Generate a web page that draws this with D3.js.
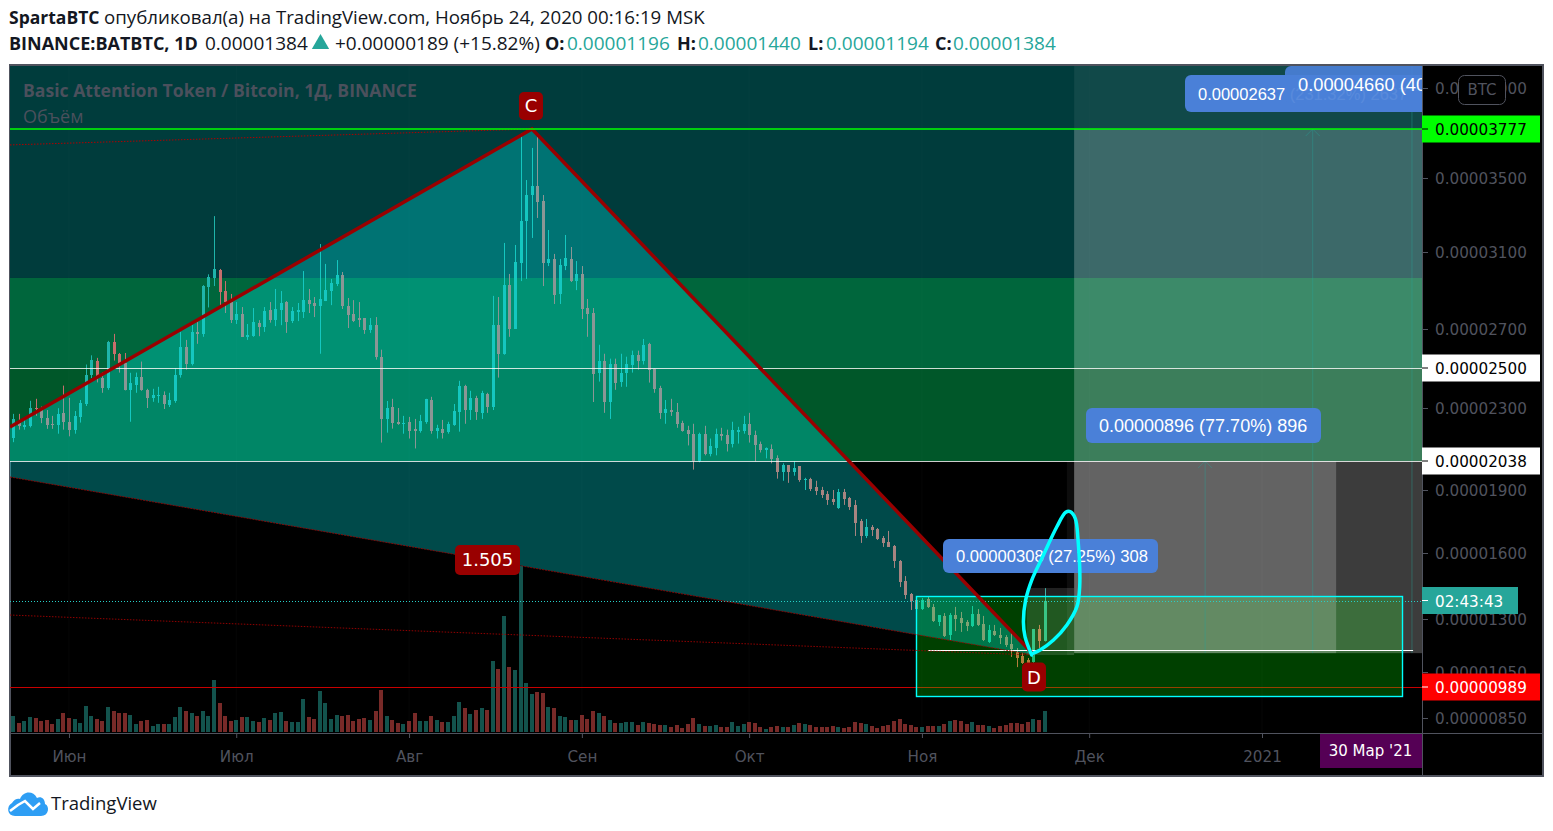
<!DOCTYPE html>
<html><head><meta charset="utf-8">
<script src="https://cdn.jsdelivr.net/npm/d3@7/dist/d3.min.js"></script>
<style>
html,body{margin:0;padding:0;background:#fff;overflow:hidden}
svg{display:block}
text{font-family:"Open Sans",sans-serif}
.ax text{font-family:"DejaVu Sans",sans-serif;font-size:15.2px;fill:#50535e}
</style></head><body>
<svg id="c" width="1553" height="831"></svg>
<script>
// prices in units of 0.00000001 BTC; index 0 is 22 May 2020, one entry per day
const firstDay = -10; // days relative to 1 June 2020
const opens = [2154,2226,2206,2212,2300,2290,2251,2222,2217,2276,
2232,2193,2256,2320,2467,2538,2452,2401,2634,2573,
2528,2391,2417,2457,2391,2351,2361,2366,2315,2336,
2467,2609,2518,2685,2675,2918,2965,3006,2897,2840,
2746,2778,2660,2665,2731,2711,2798,2746,2798,2840,
2741,2788,2788,2850,2835,2819,2845,2897,2934,2980,
2819,2778,2757,2757,2695,2720,2558,2246,2305,2232,
2222,2232,2198,2188,2232,2341,2188,2198,2183,2217,
2280,2411,2290,2351,2276,2371,2305,2720,2573,2928,
2700,3041,3268,3408,3457,3376,3043,3064,2882,3027,
3064,2949,2986,2809,2783,2477,2538,2330,2518,2432,
2477,2513,2568,2538,2624,2497,2401,2276,2290,2280,
2227,2193,2173,2036,2173,2075,2100,2173,2168,2124,
2183,2188,2222,2168,2120,2090,2095,2051,1988,2017,
1988,2012,1948,1954,1915,1900,1881,1857,1814,1890,
1862,1829,1752,1681,1724,1714,1671,1652,1633,1564,
1473,1413,1386,1345,1391,1354,1286,1314,1224,1318,
1305,1286,1267,1323,1276,1191,1243,1224,1215,1182,
1144,1125,1106,1097,1253,1196];
const highs = [2271,2271,2241,2336,2346,2307,2290,2261,2299,2412,
2351,2285,2340,2518,2565,2552,2479,2639,2675,2577,
2577,2476,2477,2533,2396,2396,2406,2383,2376,2499,
2685,2644,2721,2736,2928,2984,3294,3012,2949,2882,
2840,2814,2726,2809,2746,2814,2840,2908,2897,2845,
2814,2835,3001,2908,2866,3143,3038,2960,3058,2996,
2861,2850,2840,2757,2757,2762,2594,2335,2346,2300,
2261,2256,2246,2266,2346,2356,2217,2241,2232,2320,
2436,2416,2386,2361,2386,2376,2872,2866,3149,2986,
3138,3754,3489,3670,3732,3408,3219,3090,3064,3192,
3127,3053,3027,2856,2809,2619,2573,2548,2548,2573,
2558,2589,2589,2649,2629,2497,2411,2340,2346,2325,
2237,2212,2222,2178,2212,2149,2198,2202,2193,2232,
2207,2261,2276,2188,2134,2105,2120,2066,2027,2017,
2036,2012,1958,1958,1944,1915,1895,1900,1905,1905,
1867,1852,1762,1762,1733,1719,1681,1705,1638,1568,
1495,1418,1391,1395,1400,1368,1318,1327,1327,1355,
1332,1295,1359,1345,1314,1272,1272,1258,1224,1234,
1163,1140,1116,1253,1272,1440];
const lows = [2131,2193,2193,2204,2261,2225,2197,2197,2173,2193,
2160,2173,2228,2310,2450,2428,2376,2391,2538,2477,
2388,2232,2376,2386,2300,2331,2326,2295,2305,2326,
2452,2492,2513,2624,2660,2812,2923,2824,2783,2731,
2726,2660,2644,2660,2663,2685,2733,2715,2720,2680,
2731,2741,2757,2783,2762,2573,2845,2824,2923,2804,
2705,2736,2710,2675,2680,2543,2129,2178,2198,2217,
2173,2149,2100,2178,2222,2173,2149,2149,2173,2212,
2183,2222,2241,2241,2246,2276,2290,2452,2568,2660,
2700,2949,2960,3176,3284,2923,3027,2830,2830,3006,
2944,2902,2752,2660,2330,2432,2276,2246,2391,2406,
2406,2477,2492,2518,2427,2376,2246,2222,2261,2202,
2183,2115,1997,2032,2066,2061,2066,2139,2085,2105,
2124,2173,2129,2036,2080,2051,2027,1954,1944,1934,
1968,1939,1900,1895,1876,1862,1829,1829,1810,1829,
1805,1681,1648,1671,1681,1662,1629,1629,1532,1445,
1391,1341,1345,1341,1350,1286,1267,1215,1201,1243,
1239,1243,1262,1267,1196,1187,1220,1182,1168,1121,
1073,1088,1073,1065,1163,1194];
const closes = [2245,2209,2217,2300,2293,2250,2217,2219,2271,2232,
2193,2261,2325,2467,2543,2462,2401,2634,2573,2528,
2391,2427,2457,2391,2351,2366,2366,2320,2340,2467,
2609,2518,2685,2675,2923,2970,3012,2892,2840,2746,
2778,2660,2670,2736,2711,2794,2746,2804,2835,2738,
2793,2798,2850,2830,2819,2856,2902,2939,2980,2819,
2772,2741,2746,2695,2720,2558,2246,2300,2227,2222,
2225,2188,2188,2237,2346,2188,2202,2178,2222,2285,
2411,2290,2351,2280,2376,2305,2720,2573,2928,2700,
3048,3268,3408,3457,3370,3043,3064,2876,3032,3069,
2949,2986,2804,2778,2472,2538,2330,2518,2427,2477,
2518,2568,2538,2619,2492,2396,2276,2295,2280,2222,
2188,2173,2036,2173,2075,2110,2173,2163,2124,2193,
2193,2222,2168,2115,2090,2100,2046,1988,2017,1988,
2007,1949,1953,1905,1895,1876,1852,1843,1890,1857,
1819,1743,1681,1724,1710,1667,1648,1629,1564,1468,
1409,1382,1345,1386,1354,1291,1318,1220,1318,1300,
1281,1267,1323,1272,1201,1248,1224,1210,1177,1158,
1116,1092,1088,1253,1195,1384];
const volumes = [48,27,33,45,42,33,36,24,39,57,
42,39,27,78,48,39,33,75,63,57,
57,51,24,33,36,18,24,24,24,45,
75,63,57,48,63,48,156,87,48,33,
36,45,45,33,30,42,36,57,60,33,
30,30,99,45,39,123,87,39,51,48,
51,33,39,42,36,63,126,48,36,27,
24,33,57,33,33,48,36,30,30,48,
90,72,54,66,72,66,213,189,348,195,
186,498,147,114,120,118,76,73,49,46,
37,37,52,40,64,58,49,37,28,28,
31,31,22,31,28,25,22,22,16,22,
13,25,43,25,19,19,22,16,16,31,
19,25,31,28,16,10,16,19,16,16,
22,28,25,22,16,16,16,19,16,13,
16,31,28,25,19,13,18,21,33,39,
24,21,15,15,18,18,18,24,33,36,
33,24,30,21,21,18,12,18,21,27,
27,24,30,39,36,63];
const monthTicks = [0,30,61,92,122,153,183,214];
const monthLabels = ["Июн","Июл","Авг","Сен","Окт","Ноя","Дек","2021"];
const priceTicks = [850,1050,1300,1600,1900,2300,2700,3100,3500,4000];
// the price axis of the reference is neither linear nor log: calibrated knots
const priceKnots = [783,850,989,1050,1300,1384,1600,1900,2038,2300,2500,2700,3100,3500,3777,4000,4120];

// drawings, as [day, price]
const leftLegTop=[-10.58,2206], pointC=[83.05,3777], pointD=[173.1,1130], leftLegBottom=[-10.58,1962];
const dotTopStart=[-10.58,3687], dotLowStart=[-10.58,1318];
const levelGreen=3777, level2500=2500, level2038=2038, levelRed=989, lastPrice=1384;
const zoneTop=[2965,4120], zoneMid=[2500,2965], zoneLow=[2038,2500];
const box={d0:151.9,d1:239.1,p0:1404,p1:949};
const baseLine={d0:154.1,d1:241.1,p:1153};
const fadeA={d0:180.3,d1:242.7,p0:3777,p1:1139};
const fadeB={d0:180.3,d1:227.3,p0:2038,p1:1139};
const fadeC={d0:180.3,d1:242.7,p0:4120,p1:3777};
const fadeD={d0:171.8,d1:180.3,p0:1441,p1:1130};
const fadeE={d0:179,d1:180.3,p0:2038,p1:1130};
const verticals=[[203.8,2038,1139],[223.1,3777,1139],[240.9,4120,1139]];
const arrowTips=[[203.8,2038],[223.1,3777]];
const sketch=[[172.7,1130],[171.5,1216],[171.2,1287],[171.6,1386],[172.7,1477],[174.8,1591],[177.2,1725],[178.8,1794],[179.6,1797],[180.5,1765],[181.0,1662],[181.3,1447],[180.8,1356],[179.0,1272],[176.6,1201],[174.2,1154],[172.7,1135]];

const L=10,R=1422,T=66,B=733;
const x=d3.scaleLinear().domain([-10.58,242.7]).range([L,R]);
const y=d3.scaleLinear().domain(priceKnots).range([733,718,687,672,619,600.5,553,490,461,408,368,329,252,178,129,88,66]);
const vol=d3.scaleLinear().domain([0,498]).range([732,566]);
const fmt=v=>(v/1e8).toFixed(8);
const candles=opens.map((o,i)=>({day:firstDay+i,o,h:highs[i],l:lows[i],c:closes[i],v:volumes[i],up:closes[i]>=o}));
const UP="#26a69a",DOWN="#ef5350";

const svg=d3.select("#c");
svg.append("defs").append("clipPath").attr("id","pane").append("rect").attr("x",L).attr("y",T).attr("width",R-L).attr("height",B-T);
// frame
svg.append("rect").attr("x",10).attr("y",65).attr("width",1533).attr("height",711).attr("fill","#000").attr("stroke","#50535e").attr("stroke-width",2);

const g=svg.append("g").attr("clip-path","url(#pane)");
const band=(p0,p1,col,op)=>g.append("rect").attr("x",L).attr("width",R-L).attr("y",y(p1)).attr("height",y(p0)-y(p1)).attr("fill",col).attr("opacity",op==null?1:op);
const rect=(r,col,op)=>g.append("rect").attr("x",x(r.d0)).attr("width",x(r.d1)-x(r.d0)).attr("y",y(r.p0)).attr("height",y(r.p1)-y(r.p0)).attr("fill",col).attr("opacity",op);

band(zoneTop[0],zoneTop[1],"#001717");
band(zoneMid[0],zoneMid[1],"#004917");
band(zoneLow[0],zoneLow[1],"#003700");

// faint grid
g.selectAll("line.grid").data(monthTicks).join("line").attr("class","grid").attr("x1",d=>x(d)).attr("x2",d=>x(d)).attr("y1",T).attr("y2",B).attr("stroke","#fff").attr("stroke-opacity",.025);

// volume
g.selectAll("rect.v").data(candles).join("rect").attr("class","v")
 .attr("x",d=>Math.round(x(d.day))-2).attr("width",4).attr("y",d=>vol(d.v)).attr("height",d=>vol(0)-vol(d.v))
 .attr("fill",d=>d.up?UP:DOWN).attr("opacity",.5).attr("shape-rendering","crispEdges");

// candles
g.selectAll("line.w").data(candles).join("line").attr("class","w")
 .attr("x1",d=>Math.round(x(d.day))+.5).attr("x2",d=>Math.round(x(d.day))+.5).attr("y1",d=>y(d.h)).attr("y2",d=>y(d.l))
 .attr("stroke",d=>d.up?UP:DOWN).attr("stroke-width",1);
g.selectAll("rect.b").data(candles).join("rect").attr("class","b")
 .attr("x",d=>Math.round(x(d.day))-1).attr("width",3).attr("y",d=>y(Math.max(d.o,d.c))).attr("height",d=>Math.max(1,y(Math.min(d.o,d.c))-y(Math.max(d.o,d.c))))
 .attr("fill",d=>d.up?UP:DOWN).attr("shape-rendering","crispEdges");

// cyan wash over the upper zones
band(level2038,zoneTop[1],"#00ffff",.16);
// red level sits under the box
g.append("line").attr("x1",L).attr("x2",R).attr("y1",Math.round(y(levelRed))+.5).attr("y2",Math.round(y(levelRed))+.5).attr("stroke","#c80000").attr("stroke-width",1);
// box
rect(box,"#00ff00",.25);
// triangle
const ln=d3.line().x(d=>x(d[0])).y(d=>y(d[1]));
g.append("path").attr("d",ln([leftLegTop,pointC,pointD,leftLegBottom])+"Z").attr("fill","#00f5f5").attr("opacity",.3);
// fades
rect(fadeA,"#fff",.235);rect(fadeB,"#fff",.205);rect(fadeC,"#fff",.065);rect(fadeD,"#fff",.13);rect(fadeE,"#fff",.05);
g.selectAll("line.vv").data(verticals).join("line").attr("class","vv").attr("x1",d=>x(d[0])).attr("x2",d=>x(d[0])).attr("y1",d=>y(d[1])).attr("y2",d=>y(d[2])).attr("stroke","#26a69a").attr("stroke-opacity",.4);
g.selectAll("path.arrow").data(arrowTips).join("path").attr("class","arrow").attr("fill","none").attr("stroke","#26a69a").attr("stroke-opacity",.4)
 .attr("d",d=>`M${x(d[0])-7} ${y(d[1])+7}L${x(d[0])} ${y(d[1])}L${x(d[0])+7} ${y(d[1])+7}`);
// levels
const hline=(p,c,o,w)=>g.append("line").attr("x1",L).attr("x2",R).attr("y1",Math.round(y(p))+.5).attr("y2",Math.round(y(p))+.5).attr("stroke",c).attr("stroke-opacity",o).attr("stroke-width",w||1);
hline(level2500,"#fff",.8);
hline(level2038,"#fff",.8);
g.append("line").attr("x1",x(baseLine.d0)).attr("x2",x(baseLine.d1)).attr("y1",Math.round(y(baseLine.p))+.5).attr("y2",Math.round(y(baseLine.p))+.5).attr("stroke","#fff").attr("stroke-width",1.2);
hline(lastPrice,"#26d0c8",1).attr("stroke-dasharray","1 2");
// box outline
g.append("rect").attr("x",Math.round(x(box.d0))+.5).attr("y",Math.round(y(box.p0))+.5).attr("width",Math.round(x(box.d1)-x(box.d0))).attr("height",Math.round(y(box.p1)-y(box.p0))).attr("fill","none").attr("stroke","#00ffff").attr("stroke-width",1.4);
// pattern lines
g.append("path").attr("d",ln([leftLegBottom,pointD])).attr("fill","none").attr("stroke","#a00000").attr("stroke-opacity",.8).attr("stroke-dasharray","2 1");
g.append("path").attr("d",ln([dotTopStart,pointC])).attr("fill","none").attr("stroke","#b00000").attr("stroke-dasharray","1.5 1.5");
g.append("path").attr("d",ln([dotLowStart,pointD])).attr("fill","none").attr("stroke","#a00000").attr("stroke-opacity",.9).attr("stroke-dasharray","1.5 1.5");
g.append("path").attr("d",ln([leftLegTop,pointC,pointD])).attr("fill","none").attr("stroke","#990000").attr("stroke-width",3.5);
// green resistance level, on top of the pattern lines
g.append("line").attr("x1",L).attr("x2",R).attr("y1",y(levelGreen)).attr("y2",y(levelGreen)).style("stroke","#00ff00").style("stroke-width","1.4px");

// measure labels
function measure(xl,yt,w,h,txt,op,fs){
  g.append("rect").attr("x",xl).attr("y",yt).attr("width",w).attr("height",h).attr("rx",6).attr("fill","#4a80d8").attr("opacity",op);
  g.append("text").attr("x",xl+13).attr("y",yt+h/2+6).attr("fill","#fff").style("font-family","'Liberation Sans',sans-serif").style("font-size",fs+"px").text(txt);
}
measure(1185,75,300,37,"0.00002637 (231.32%) 2637",1,16.5);
measure(1285,66,300,37,"0.00004660 (404.07%) 4660",.92,18.3);
measure(1086,408,235,35,"0.00000896 (77.70%) 896",1,18);
measure(943,539,215,34,"0.00000308 (27.25%) 308",1,16.6);

// hand-drawn loop
g.append("path").attr("d",d3.line().x(d=>x(d[0])).y(d=>y(d[1])).curve(d3.curveCatmullRom)(sketch)).attr("fill","none").attr("stroke","#00ffff").attr("stroke-width",3.5).attr("stroke-linecap","round");

// badges
function badge(cx,cy,w,h,txt,fs){
  g.append("rect").attr("x",cx-w/2).attr("y",cy-h/2).attr("width",w).attr("height",h).attr("rx",5).attr("fill","#990000");
  g.append("text").attr("x",cx).attr("y",cy+fs*.36).attr("text-anchor","middle").attr("fill","#fff").style("font-size",fs+"px").style("font-family","'DejaVu Sans',sans-serif").text(txt);
}
badge(x(pointC[0])-1,y(pointC[1])-23,24,28,"C",18);
badge(x(pointD[0]),y(pointD[1])+22,24,29,"D",18);
badge(487.5,560,65,30,"1.505",18);

// pane titles
g.append("text").attr("x",23).attr("y",97).attr("fill","#4b505c").style("font-size","17.6px").style("font-weight",700).text("Basic Attention Token / Bitcoin, 1Д, BINANCE");
g.append("text").attr("x",23).attr("y",123).attr("fill","#4b505c").style("font-size","18px").text("Объём");

// axes
const ay=d3.axisRight(y).tickValues(priceTicks).tickFormat(fmt).tickSize(6).tickPadding(7);
const gy=svg.append("g").attr("class","ax").attr("transform",`translate(${R},0)`).call(ay);
gy.select(".domain").remove();
gy.selectAll("line").attr("stroke","#50535e");
gy.selectAll("text").attr("dy","0.36em");
svg.append("line").attr("x1",R+.5).attr("x2",R+.5).attr("y1",T).attr("y2",776).attr("stroke","#50535e");
const ax=d3.axisBottom(x).tickValues(monthTicks).tickFormat((d,i)=>monthLabels[i]).tickSize(5).tickPadding(13);
const gx=svg.append("g").attr("class","ax").attr("transform",`translate(0,${B})`).call(ax);
gx.select(".domain").remove();
gx.selectAll("line").attr("stroke","#50535e");
svg.append("line").attr("x1",L).attr("x2",1543).attr("y1",B+.5).attr("y2",B+.5).attr("stroke","#50535e");

// price tags
function tag(p,w,bg,fg,txt){
  const c=y(p);
  svg.append("rect").attr("x",R).attr("y",c-13.5).attr("width",w).attr("height",27).attr("fill",bg);
  svg.append("line").attr("x1",R).attr("x2",R+6).attr("y1",c).attr("y2",c).attr("stroke",fg);
  svg.append("text").attr("x",R+13).attr("y",c+6).attr("fill",fg).style("font-family","'DejaVu Sans',sans-serif").style("font-size","15.2px").text(txt);
}
tag(levelGreen,118,"#00ff00","#000",fmt(levelGreen));
tag(level2500,118,"#fff","#000",fmt(level2500));
tag(level2038,118,"#fff","#000",fmt(level2038));
tag(lastPrice,96,"#26a69a","#fff","02:43:43");
tag(levelRed,118,"#ff0000","#fff",fmt(levelRed));
// currency button
svg.append("rect").attr("x",1458.5).attr("y",75.5).attr("width",47).attr("height",29).attr("rx",6).attr("fill","#000").attr("stroke","#50535e");
svg.append("text").attr("x",1482).attr("y",95).attr("text-anchor","middle").attr("fill","#50535e").style("font-family","'DejaVu Sans',sans-serif").style("font-size","15px").text("BTC");
// date tag
svg.append("rect").attr("x",1320).attr("y",B+1).attr("width",102).attr("height",34).attr("fill","#550055");
svg.append("text").attr("x",1370.5).attr("y",756).attr("text-anchor","middle").attr("fill","#fff").style("font-family","'DejaVu Sans',sans-serif").style("font-size","15px").text("30 Мар '21");

// header
const H=svg.append("g").attr("fill","#131722");
const t1=H.append("text").attr("x",9).attr("y",24).style("font-size","18.7px");
t1.append("tspan").style("font-weight",700).style("font-size","17.5px").text("SpartaBTC ");
t1.append("tspan").text("опубликовал(а) на TradingView.com, Ноябрь 24, 2020 00:16:19 MSK");
const put=(xx,t,b,col)=>H.append("text").attr("x",xx).attr("y",50).style("font-size",b?"18px":"19px").style("font-weight",b?700:400).attr("fill",col||"#131722").text(t);
put(9,"BINANCE:BATBTC, 1D",1);
put(205,"0.00001384",0);
put(335,"+0.00000189 (+15.82%)",0);
[["O:",545,"0.00001196",567],["H:",677,"0.00001440",698],["L:",808,"0.00001194",826],["C:",935,"0.00001384",953]].forEach(a=>{put(a[1],a[0],1);put(a[3],a[2],0,UP);});
svg.append("path").attr("d",d3.symbol(d3.symbolTriangle,130)()).attr("transform","translate(320.5,44)").attr("fill",UP);

// logo
svg.append("path").attr("d","M15 816C7 816 6 806 12 803C14 799 18 798 20 799C23 791 33 790 37 798C41 796 45 799 45 804C50 806 49 816 41 816Z").attr("fill","#2e9ef4");
svg.append("path").attr("d","M10 811L18 805L25 801L33 809L40 803").attr("fill","none").attr("stroke","#fff").attr("stroke-width",2.5);
svg.append("text").attr("x",51).attr("y",810).attr("fill","#131722").style("font-size","18.5px").text("TradingView");
</script>
</body></html>
